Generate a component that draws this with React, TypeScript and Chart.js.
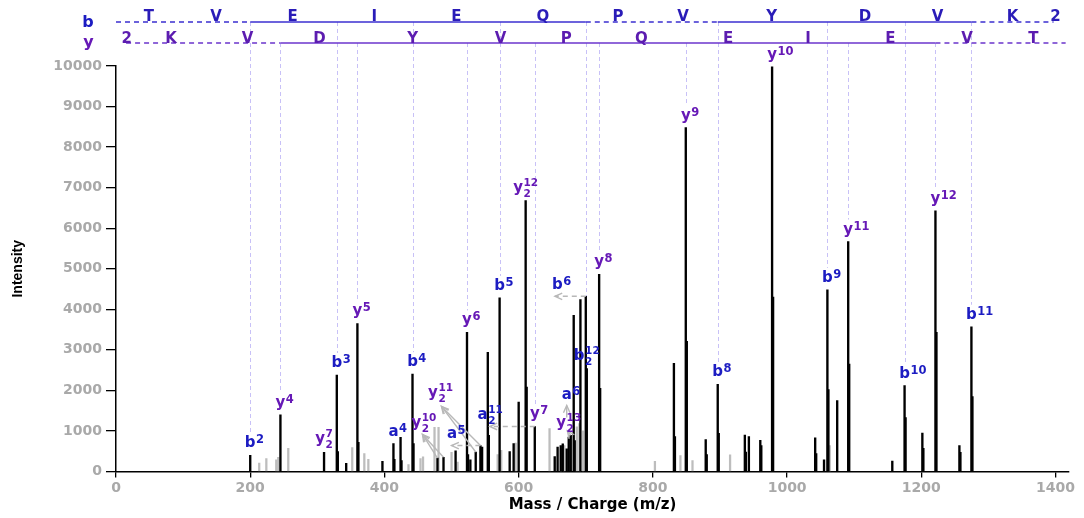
import { useEffect, useRef } from "react";
import { Chart, registerables } from "chart.js";

Chart.register(...registerables);

// ---------- axis ticks ----------
const xTickValues = [0, 200, 400, 600, 800, 1000, 1200, 1400];
const yTickValues = [0, 1000, 2000, 3000, 4000, 5000, 6000, 7000, 8000, 9000, 10000];

// ---------- matched (black) peaks ----------
const matchedMz = [
  200, 245, 310, 329, 330.5, 343, 359.7, 361.2, 397, 413.4, 414.8, 424, 425.4, 441.8, 443.3,
  479, 488, 506, 523, 524.5, 528, 536, 543, 545.5, 554, 555.5, 571.6, 586.6, 592.5, 600,
  610.4, 611.9, 624, 653.7, 658, 662.7, 665.7, 671.6, 674.6, 677.6, 682, 683.5, 692, 700,
  701.5, 719.9, 721.4, 831.3, 832.8, 849, 850.5, 878.7, 880.2, 896.6, 898.1, 937, 938.5,
  943, 960, 961.5, 977.6, 979.1, 1041.8, 1043.3, 1055, 1060, 1061.5, 1074.6, 1091, 1092.5,
  1156.7, 1175, 1176.5, 1201.5, 1203, 1221, 1222.5, 1256.7, 1258.2, 1274.6, 1276.1,
];
const matchedIntensity = [
  400, 1400, 470, 2380, 490, 200, 3650, 720, 250, 690, 300, 840, 270, 2400, 690,
  330, 350, 510, 3430, 420, 290, 480, 640, 600, 2940, 890, 4280, 490, 690, 1710,
  6680, 2080, 1110, 370, 600, 640, 680, 560, 850, 890, 3850, 760, 4240, 4320,
  2540, 4860, 2050, 2670, 860, 8480, 3210, 790, 420, 2150, 940, 900, 480,
  860, 770, 640, 9980, 4300, 830, 440, 290, 4480, 2020, 1750, 5670, 2650,
  255, 2120, 1330, 950, 570, 6430, 3430, 640, 470, 3570, 1850,
];

// ---------- unmatched (grey) peaks ----------
const otherMz = [
  213.4, 224, 238.8, 241.8, 256.7, 352, 370, 376, 435.8, 453.7, 457.5, 474.6, 480.6, 500,
  509, 568.7, 574, 595.5, 646, 663, 668, 686.6, 690.5, 696, 803, 841, 859, 915, 1063.5,
];
const otherIntensity = [
  205, 320, 290, 350, 570, 590, 440, 300, 170, 320, 360, 1090, 1090, 470,
  230, 420, 520, 700, 1060, 560, 640, 1100, 1180, 1000, 250, 390, 270, 410, 640,
];

// ---------- fragment labels: [ion, superscript, subscript, m/z, intensity] ----------
type IonLabel = [string, string, string, number, number];
// anchored on top of their peak
const peakLabels: IonLabel[] = [
  ["b", "2", "", 200, 400],
  ["y", "4", "", 245, 1400],
  ["y", "7", "2", 310, 470],
  ["b", "3", "", 329, 2380],
  ["y", "5", "", 359.7, 3650],
  ["a", "4", "", 413.4, 690],
  ["b", "4", "", 441.8, 2400],
  ["y", "6", "", 523, 3430],
  ["b", "5", "", 571.6, 4280],
  ["y", "12", "2", 610.4, 6680],
  ["y", "7", "", 624, 1110],
  ["b", "12", "2", 701.5, 2540],
  ["y", "8", "", 719.9, 4860],
  ["y", "9", "", 849, 8480],
  ["b", "8", "", 896.6, 2150],
  ["y", "10", "", 977.6, 9980],
  ["b", "9", "", 1060, 4480],
  ["y", "11", "", 1091, 5670],
  ["b", "10", "", 1175, 2120],
  ["y", "12", "", 1221, 6430],
  ["b", "11", "", 1274.6, 3570],
];
// placed away from their peak (m/z of label centre, intensity of label baseline)
const movedLabels: IonLabel[] = [
  ["y", "10", "2", 458.8, 1086],
  ["y", "11", "2", 483.6, 1827],
  ["a", "5", "", 500.7, 815],
  ["a", "11", "2", 557.5, 1296],
  ["b", "6", "", 657.5, 4510],
  ["a", "6", "", 671.6, 1800],
  ["y", "13", "2", 674.6, 1086],
];
// arrows: [from m/z, from intensity, to m/z, to intensity, dashed]
const arrows: [number, number, number, number, number][] = [
  [700, 4320, 654, 4320, 1],
  [624, 1110, 557, 1110, 1],
  [543, 640, 500, 640, 1],
  [488, 350, 456.7, 914, 0],
  [479, 330, 456.7, 914, 0],
  [543, 640, 485, 1605, 0],
  [536, 480, 485, 1605, 0],
  [671.6, 1330, 671.6, 1630, 0],
  [677.6, 890, 672.5, 1000, 0],
];

// ---------- sequence ladder ----------
const bGuideMz = [200, 329, 441.8, 571.6, 700, 896.6, 1060, 1175, 1274.6];
const yGuideMz = [245, 359.7, 523, 624, 719.9, 849, 977.6, 1091, 1221];
const bRowLetters = ["T", "V", "E", "I", "E", "Q", "P", "V", "Y", "D", "V", "K", "2"];
const bRowMz = [49, 149, 263, 385, 507, 636, 748, 845, 977, 1116, 1224, 1336, 1400];
const yRowLetters = ["2", "K", "V", "D", "Y", "V", "P", "Q", "E", "I", "E", "V", "T"];
const yRowMz = [16, 82, 196, 303, 442, 573, 671, 783, 912, 1031, 1154, 1268, 1367];
// [start m/z, end m/z, dashed]
const bRowSegments: [number, number, number][] = [
  [0, 200, 1], [200, 700, 0], [700, 896.6, 1], [896.6, 1274.6, 0], [1274.6, 1397, 1],
];
const yRowSegments: [number, number, number][] = [
  [15, 245, 1], [245, 1221, 0], [1221, 1415, 1],
];

// ---------- styles ----------
const BLUE = "#1c1cc2";
const PURPLE = "#6619b6";
const B_ROW_TEXT = "#2a1cb8";
const Y_ROW_TEXT = "#5c1cb0";
const B_ROW_LINE = "#3b2fd0";
const Y_ROW_LINE = "#6b35cc";
const GUIDE = "#c8c1f7";
const ARROW = "#b8b8b8";
const FONT = "'DejaVu Sans', sans-serif";
const B_ROW_Y = 22;
const Y_ROW_Y = 43;

function labelGap(sub: string) {
  return sub ? 9 : 8;
}

function drawIonLabel(
  ctx: CanvasRenderingContext2D,
  ion: string,
  sup: string,
  sub: string,
  cx: number,
  baseline: number
) {
  const mainFont = `bold 15px ${FONT}`;
  const scriptFont = sub ? `bold 10.5px ${FONT}` : `bold 11.5px ${FONT}`;
  ctx.font = mainFont;
  const mw = ctx.measureText(ion).width;
  ctx.font = scriptFont;
  const sw = Math.max(ctx.measureText(sup).width, ctx.measureText(sub).width);
  const left = sub ? cx - (mw + 0.5 + sw) / 2 : cx - mw / 2;
  ctx.fillStyle = ion === "y" ? PURPLE : BLUE;
  ctx.textAlign = "left";
  ctx.textBaseline = "alphabetic";
  ctx.font = mainFont;
  ctx.fillText(ion, left, baseline);
  ctx.font = scriptFont;
  const sx = left + mw + 0.5;
  if (sub) {
    ctx.fillText(sup, sx, baseline - 6);
    ctx.fillText(sub, sx, baseline + 5);
  } else {
    ctx.fillText(sup, sx, baseline - 4);
  }
}

function drawArrow(
  ctx: CanvasRenderingContext2D,
  x1: number,
  y1: number,
  x2: number,
  y2: number,
  dashed: boolean
) {
  ctx.save();
  ctx.strokeStyle = ARROW;
  ctx.lineWidth = 1.4;
  ctx.setLineDash(dashed ? [5, 4] : []);
  ctx.beginPath();
  ctx.moveTo(x1, y1);
  ctx.lineTo(x2, y2);
  ctx.stroke();
  ctx.setLineDash([]);
  const ang = Math.atan2(y2 - y1, x2 - x1);
  const L = 8;
  const a = 0.42;
  ctx.beginPath();
  ctx.moveTo(x2 - L * Math.cos(ang - a), y2 - L * Math.sin(ang - a));
  ctx.lineTo(x2, y2);
  ctx.lineTo(x2 - L * Math.cos(ang + a), y2 - L * Math.sin(ang + a));
  ctx.stroke();
  ctx.restore();
}

const annotationPlugin = {
  id: "msAnnotations",
  beforeDatasetsDraw(chart: any) {
    const { ctx } = chart;
    const xs = chart.scales.x;
    const ys = chart.scales.y;
    ctx.save();
    ctx.strokeStyle = GUIDE;
    ctx.lineWidth = 1;
    ctx.setLineDash([4, 3]);
    const guide = (mz: number, startY: number) => {
      const i = matchedMz.indexOf(mz);
      const top = ys.getPixelForValue(matchedIntensity[i]);
      const lab = peakLabels.find((l) => l[3] === mz);
      const end = lab ? top - labelGap(lab[2]) - 14 : top;
      if (end - startY < 6) return;
      const px = Math.round(xs.getPixelForValue(mz)) + 0.5;
      ctx.beginPath();
      ctx.moveTo(px, startY);
      ctx.lineTo(px, end);
      ctx.stroke();
    };
    bGuideMz.forEach((m) => guide(m, B_ROW_Y));
    yGuideMz.forEach((m) => guide(m, Y_ROW_Y));
    ctx.restore();
  },
  afterDatasetsDraw(chart: any) {
    const { ctx } = chart;
    const xs = chart.scales.x;
    const ys = chart.scales.y;
    ctx.save();

    arrows.forEach(([m1, i1, m2, i2, d]) => {
      drawArrow(
        ctx,
        xs.getPixelForValue(m1),
        ys.getPixelForValue(i1),
        xs.getPixelForValue(m2),
        ys.getPixelForValue(i2),
        d === 1
      );
    });

    peakLabels.forEach(([ion, sup, sub, mz, inten]) => {
      drawIonLabel(ctx, ion, sup, sub, xs.getPixelForValue(mz), ys.getPixelForValue(inten) - labelGap(sub));
    });
    movedLabels.forEach(([ion, sup, sub, mz, inten]) => {
      drawIonLabel(ctx, ion, sup, sub, xs.getPixelForValue(mz), ys.getPixelForValue(inten));
    });

    const rowLine = (segs: [number, number, number][], y: number, color: string) => {
      ctx.strokeStyle = color;
      ctx.lineWidth = 1.6;
      segs.forEach(([a, b, d]) => {
        ctx.setLineDash(d ? [5, 4] : []);
        ctx.beginPath();
        ctx.moveTo(xs.getPixelForValue(a), y);
        ctx.lineTo(xs.getPixelForValue(b), y);
        ctx.stroke();
      });
      ctx.setLineDash([]);
    };
    rowLine(bRowSegments, B_ROW_Y, B_ROW_LINE);
    rowLine(yRowSegments, Y_ROW_Y, Y_ROW_LINE);

    ctx.textAlign = "center";
    ctx.textBaseline = "alphabetic";
    ctx.font = `bold 15px ${FONT}`;
    ctx.fillStyle = B_ROW_TEXT;
    bRowLetters.forEach((t, i) => ctx.fillText(t, xs.getPixelForValue(bRowMz[i]), 20.5));
    ctx.fillStyle = Y_ROW_TEXT;
    yRowLetters.forEach((t, i) => ctx.fillText(t, xs.getPixelForValue(yRowMz[i]), 42.5));

    ctx.font = `bold 16px ${FONT}`;
    ctx.fillStyle = BLUE;
    ctx.fillText("b", 88, 27);
    ctx.fillStyle = PURPLE;
    ctx.fillText("y", 88.5, 46.5);
    ctx.restore();
  },
};

export default function App() {
  const canvasRef = useRef<HTMLCanvasElement | null>(null);

  useEffect(() => {
    document.body.style.margin = "0";
    const canvas = canvasRef.current;
    if (!canvas) return;
    const tickFont = { family: FONT, weight: "bold" as const, size: 14 };
    const chart = new Chart(canvas, {
      type: "bar",
      data: {
        datasets: [
          {
            label: "matched",
            data: matchedMz.map((x, i) => ({ x, y: matchedIntensity[i] })),
            backgroundColor: "#000000",
            barThickness: 1.7,
            grouped: false,
            order: 0,
          } as any,
          {
            label: "unmatched",
            data: otherMz.map((x, i) => ({ x, y: otherIntensity[i] })),
            backgroundColor: "#bdbdbd",
            barThickness: 1.6,
            grouped: false,
            order: 1,
          } as any,
        ],
      },
      options: {
        animation: false,
        responsive: false,
        maintainAspectRatio: false,
        devicePixelRatio: 1,
        layout: { padding: { top: 66, right: 15, left: 0, bottom: 0 } },
        plugins: {
          legend: { display: false },
          tooltip: { enabled: false },
        },
        scales: {
          x: {
            type: "linear",
            min: 0,
            max: 1420,
            offset: false,
            grid: {
              offset: false,
              drawOnChartArea: false,
              drawTicks: true,
              tickLength: 6,
              color: "#000000",
              lineWidth: 1.3,
            },
            border: { display: true, color: "#000000", width: 1.5 },
            ticks: {
              font: tickFont,
              color: "#a9a9a9",
              padding: 2,
              maxRotation: 0,
              callback: (v: any) => String(v),
            },
            afterBuildTicks: (scale: any) => {
              scale.ticks = xTickValues.map((v) => ({ value: v }));
            },
            afterFit: (scale: any) => {
              scale.height = 46.5;
            },
            title: {
              display: true,
              text: "Mass / Charge (m/z)",
              color: "#000000",
              font: { family: FONT, weight: "bold", size: 15 },
              padding: { top: 0, bottom: 4 },
            },
          },
          y: {
            type: "linear",
            min: 0,
            max: 10000,
            grid: {
              drawOnChartArea: false,
              drawTicks: true,
              tickLength: 10,
              color: "#000000",
              lineWidth: 1.3,
            },
            border: { display: true, color: "#000000", width: 1.5 },
            ticks: {
              font: tickFont,
              color: "#a9a9a9",
              padding: 4,
              callback: (v: any) => String(v),
            },
            afterBuildTicks: (scale: any) => {
              scale.ticks = yTickValues.map((v) => ({ value: v }));
            },
            afterFit: (scale: any) => {
              scale.width = 116;
            },
            title: {
              display: true,
              text: "Intensity",
              color: "#000000",
              font: { family: "'Liberation Sans', Arial, sans-serif", weight: "bold", size: 14 },
              padding: { top: 10, bottom: 0 },
            },
          },
        },
      } as any,
      plugins: [annotationPlugin],
    });
    return () => chart.destroy();
  }, []);

  return (
    <div style={{ width: 1084, height: 518, overflow: "hidden", background: "#ffffff" }}>
      <canvas ref={canvasRef} width={1084} height={518} style={{ display: "block", width: 1084, height: 518 }} />
    </div>
  );
}
